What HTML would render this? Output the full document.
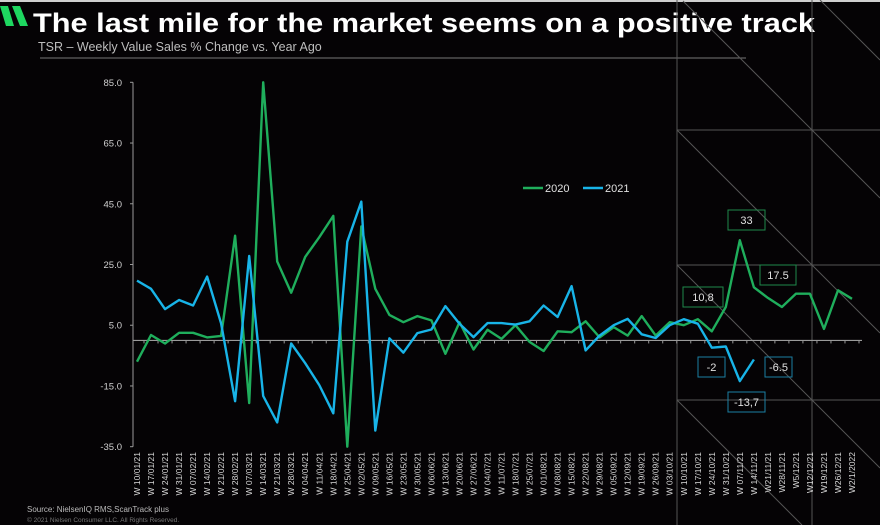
<!DOCTYPE html>
<html><head><meta charset="utf-8"><style>
html,body{margin:0;padding:0;background:#050305;}
svg{display:block;font-family:"Liberation Sans",sans-serif;}
</style></head><body>
<svg width="880" height="525" viewBox="0 0 880 525">
<rect x="0" y="0" width="880" height="525" fill="#050305"/>
<rect x="0" y="0" width="880" height="2" fill="#cfcfcf"/>
<g>
<polygon points="0,6 8,6 14,26 6,26" fill="#1ed760"/>
<polygon points="12,6 20,6 28,26 20,26" fill="#1ed760"/>
</g>
<text x="33" y="32" fill="#ffffff" font-size="27" font-weight="bold" textLength="782" lengthAdjust="spacingAndGlyphs">The last mile for the market seems on a positive track</text>
<text x="38" y="51" fill="#bdbdbd" font-size="12.5">TSR – Weekly Value Sales % Change vs. Year Ago</text>
<line x1="40" y1="58" x2="746" y2="58" stroke="#777" stroke-width="1"/>
<g id="deco" stroke="#555" stroke-width="1" fill="none">
<line x1="677" y1="0" x2="677" y2="525"/>
<line x1="812" y1="0" x2="812" y2="525"/>
<line x1="677" y1="130" x2="880" y2="130"/>
<line x1="677" y1="265" x2="880" y2="265"/>
<line x1="677" y1="400" x2="880" y2="400"/>
<line x1="683" y1="1" x2="880" y2="198"/>
<line x1="820" y1="0" x2="880" y2="60"/>
<line x1="677" y1="130" x2="880" y2="333"/>
<line x1="677" y1="265" x2="880" y2="468"/>
<line x1="677" y1="400" x2="802" y2="525"/>
</g>
<g id="axes"></g>
<g id="series"></g>
<g>
<line x1="523" y1="188" x2="543" y2="188" stroke="#1fae5c" stroke-width="2.5"/>
<text x="545" y="192" fill="#e0e0e0" font-size="11">2020</text>
<line x1="583" y1="188" x2="603" y2="188" stroke="#18b4e8" stroke-width="2.5"/>
<text x="605" y="192" fill="#e0e0e0" font-size="11">2021</text>
</g>
<g font-size="11" fill="#e0e0e0" text-anchor="middle">
<rect x="728" y="210" width="37" height="20" fill="none" stroke="#1e8a4a"/>
<text x="746.5" y="224">33</text>
<rect x="760" y="265" width="36" height="20" fill="none" stroke="#1e8a4a"/>
<text x="778" y="279">17.5</text>
<rect x="683" y="287" width="40" height="20" fill="none" stroke="#1e8a4a"/>
<text x="703" y="301">10,8</text>
<rect x="698" y="357" width="27" height="20" fill="none" stroke="#1a7fa3"/>
<text x="711.5" y="371">-2</text>
<rect x="765" y="357" width="27" height="20" fill="none" stroke="#1a7fa3"/>
<text x="778.5" y="371">-6.5</text>
<rect x="728" y="392" width="37" height="20" fill="none" stroke="#1a7fa3"/>
<text x="746.5" y="406">-13,7</text>
</g>
<text x="27" y="512" fill="#bbbbbb" font-size="8">Source: NielsenIQ RMS,ScanTrack plus</text>
<text x="27" y="522" fill="#777777" font-size="6.5">© 2021 Nielsen Consumer LLC. All Rights Reserved.</text>
</svg>
<script>
const categories = ["W 10/01/21","W 17/01/21","W 24/01/21","W 31/01/21","W 07/02/21","W 14/02/21","W 21/02/21","W 28/02/21","W 07/03/21","W 14/03/21","W 21/03/21","W 28/03/21","W 04/04/21","W 11/04/21","W 18/04/21","W 25/04/21","W 02/05/21","W 09/05/21","W 16/05/21","W 23/05/21","W 30/05/21","W 06/06/21","W 13/06/21","W 20/06/21","W 27/06/21","W 04/07/21","W 11/07/21","W 18/07/21","W 25/07/21","W 01/08/21","W 08/08/21","W 15/08/21","W 22/08/21","W 29/08/21","W 05/09/21","W 12/09/21","W 19/09/21","W 26/09/21","W 03/10/21","W 10/10/21","W 17/10/21","W 24/10/21","W 31/10/21","W 07/11/21","W 14/11/21","W21/11/21","W28/11/21","W5/12/21","W12/12/21","W19/12/21","W26/12/21","W2/1/2022"];
const series2020 = [-7,1.8,-1,2.5,2.5,1,1.5,34.5,-20.6,85,26,15.7,27.5,34,41,-35,37.5,17,8.4,6,8,6.6,-4.4,6,-3,3.5,0.5,5,-0.5,-3.5,3,2.7,6.3,1,4.4,1.6,8,1.6,6,5,7,3,11,33,17.5,14,11,15.4,15.4,3.8,16.5,13.7];
const series2021 = [19.7,17,10.3,13.3,11.5,21,5.6,-20,27.8,-18.3,-27,-1,-7.5,-14.7,-24,32.5,45.7,-29.7,0.7,-4,2.4,3.6,11.3,5.5,1.1,5.7,5.7,5.2,6.3,11.5,7.7,17.9,-3.3,1.6,5,7.1,2,0.8,5,7,5.5,-2.4,-2,-13.4,-6.3];
const yTicks = [85,65,45,25,5,-15,-35];
const yTickLabels = ["85.0","65.0","45.0","25.0","5.0","-15.0","-35.0"];

const NS="http://www.w3.org/2000/svg";
const x0=137, x1=852, yTop=82.3, yBot=446.7, vMax=85, vMin=-35;
function xScale(i){return x0+(x1-x0)*i/(categories.length-1);}
function yScale(v){return yTop+(vMax-v)*(yBot-yTop)/(vMax-vMin);}
const axes=document.getElementById('axes');
const series=document.getElementById('series');
function mk(tag,attrs,parent){const e=document.createElementNS(NS,tag);for(const k in attrs)e.setAttribute(k,attrs[k]);parent.appendChild(e);return e;}

const yl=mk('line',{x1:133,y1:yTop,x2:133,y2:yBot,stroke:'#9a9a9a','stroke-width':1},axes);


yTicks.forEach((v,k)=>{
  const t=mk('line',{x1:130,y1:yScale(v),x2:133,y2:yScale(v),stroke:'#9a9a9a'},axes);
  
  
  const l=mk('text',{x:122,y:yScale(v)+3.5,fill:'#d0d0d0','font-size':9.5,'text-anchor':'end'},axes);
  l.textContent=yTickLabels[k];
  
  
});
const zl=mk('line',{x1:133,y1:yScale(0),x2:862,y2:yScale(0),stroke:'#9a9a9a','stroke-width':1.2},axes);


categories.forEach((c,i)=>{
  const x=xScale(i);
  const t=mk('line',{x1:x+7,y1:yScale(0),x2:x+7,y2:yScale(0)+3,stroke:'#9a9a9a'},axes);
  
  
  const l=mk('text',{x:0,y:0,fill:'#d8d8d8','font-size':8.5,'text-anchor':'end',transform:`translate(${x+3},452) rotate(-90)`},axes);
  l.textContent=c;
  
  
});
function line(vals,color,name){
  const d=vals.map((v,i)=>(i?'L':'M')+xScale(i).toFixed(1)+','+yScale(v).toFixed(1)).join(' ');
  const p=mk('path',{d:d,fill:'none',stroke:color,'stroke-width':2.4,'stroke-linejoin':'round'},series);
  
  
}
line(series2020,'#1fae5c','line-2020');
line(series2021,'#18b4e8','line-2021');
</script>
</body></html>
